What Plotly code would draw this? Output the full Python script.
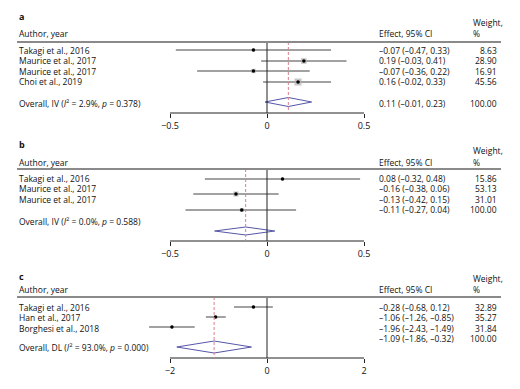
import plotly.graph_objects as go
import math

W, H = 520, 389
FONT = "Open Sans"
FS = 8.5

# ---------------- data ----------------
a_studies = ["Takagi et al., 2016", "Maurice et al., 2017", "Maurice et al., 2017", "Choi et al., 2019"]
a_es = [-0.07, 0.19, -0.07, 0.16]
a_lo = [-0.47, -0.03, -0.36, -0.02]
a_hi = [0.33, 0.41, 0.22, 0.33]
a_w = [8.63, 28.90, 16.91, 45.56]
a_overall = [0.11, -0.01, 0.23]
a_overall_label = "Overall, IV (<i>I</i><sup>2</sup> = 2.9%, <i>p</i> = 0.378)"
a_ticks = [-0.5, 0, 0.5]
a_ticktext = ["\u22120.5", "0", "0.5"]

b_studies = ["Takagi et al., 2016", "Maurice et al., 2017", "Maurice et al., 2017"]
b_es = [0.08, -0.16, -0.13]
b_lo = [-0.32, -0.38, -0.42]
b_hi = [0.48, 0.06, 0.15]
b_w = [15.86, 53.13, 31.01]
b_overall = [-0.11, -0.27, 0.04]
b_overall_label = "Overall, IV (<i>I</i><sup>2</sup> = 0.0%, <i>p</i> = 0.588)"
b_ticks = [-0.5, 0, 0.5]
b_ticktext = ["\u22120.5", "0", "0.5"]

c_studies = ["Takagi et al., 2016", "Han et al., 2017", "Borghesi et al., 2018"]
c_es = [-0.28, -1.06, -1.96]
c_lo = [-0.68, -1.26, -2.43]
c_hi = [0.12, -0.85, -1.49]
c_w = [32.89, 35.27, 31.84]
c_overall = [-1.09, -1.86, -0.32]
c_overall_label = "Overall, DL (<i>I</i><sup>2</sup> = 93.0%, <i>p</i> = 0.000)"
c_ticks = [-2, 0, 2]
c_ticktext = ["\u22122", "0", "2"]

panel_letters = ["a", "b", "c"]

# ---------------- layout geometry (pixels) ----------------
geo = [
    dict(letter_y=16, head_y=33, weight1_y=22, hline_y=42,
         text_rows=[50, 60.5, 71, 81.5], overall_text_y=103,
         right_rows=[50, 60.5, 71, 81.5], right_overall_y=103,
         plot_rows=[50, 61, 71, 82], diamond_y=102, diamond_h=4.5,
         axis_y=113, px_per_unit=194.0, sq_k=1.05),
    dict(letter_y=144, head_y=162, weight1_y=150, hline_y=169,
         text_rows=[178, 188.5, 199], overall_text_y=221,
         right_rows=[178, 188.5, 199], right_overall_y=209.5,
         plot_rows=[179, 194, 210], diamond_y=231, diamond_h=4,
         axis_y=241, px_per_unit=194.0, sq_k=0.7),
    dict(letter_y=276, head_y=289, weight1_y=278, hline_y=297,
         text_rows=[307, 317.5, 328], overall_text_y=347,
         right_rows=[307, 317.5, 328], right_overall_y=338.5,
         plot_rows=[307, 317, 327], diamond_y=347, diamond_h=6,
         axis_y=358, px_per_unit=48.5, sq_k=0.5),
]
ZERO_PX = 267
TEXT_X = 17
EFFECT_X = 377
WEIGHT_R = 499
LINE_R = 501

panels = [
    (a_studies, a_es, a_lo, a_hi, a_w, a_overall, a_overall_label, a_ticks, a_ticktext),
    (b_studies, b_es, b_lo, b_hi, b_w, b_overall, b_overall_label, b_ticks, b_ticktext),
    (c_studies, c_es, c_lo, c_hi, c_w, c_overall, c_overall_label, c_ticks, c_ticktext),
]


def fmt(v):
    return f"{v:.2f}".replace("-", "\u2013")


fig = go.Figure()
annotations = []
shapes = []
TXT_COL = "#111111"
CI_COL = "#444444"
DIAM_COL = "#5656a8"
DASH_COL = "#d9808f"

for i, (studies, es, lo, hi, w, ov, ovlab, ticks, ticktext) in enumerate(panels):
    g = geo[i]
    xname = "x" if i == 0 else f"x{i+1}"
    axname = "xaxis" if i == 0 else f"xaxis{i+1}"
    ppu = g["px_per_unit"]
    rng = [(0 - ZERO_PX) / ppu, (W - ZERO_PX) / ppu]

    ax = dict(domain=[0, 1], range=rng, showgrid=False, zeroline=False, showline=False,
              tickvals=ticks, ticktext=ticktext, ticks="outside", ticklen=4, tickwidth=1,
              tickcolor="#222", tickfont=dict(family=FONT, size=9, color=TXT_COL),
              anchor="free", position=1 - g["axis_y"] / H, fixedrange=True)
    if i > 0:
        ax["overlaying"] = "x"
    fig.update_layout(**{axname: ax})

    # CI lines
    xs, ys = [], []
    for l, h, y in zip(lo, hi, g["plot_rows"]):
        xs += [l, h, None]
        ys += [y, y, None]
    fig.add_trace(go.Scatter(x=xs, y=ys, mode="lines", xaxis=xname, yaxis="y",
                             line=dict(color=CI_COL, width=1), hoverinfo="skip", showlegend=False))
    # weight squares
    fig.add_trace(go.Scatter(x=es, y=g["plot_rows"], mode="markers", xaxis=xname, yaxis="y",
                             marker=dict(symbol="square", color="#b0b0b0",
                                         size=[g["sq_k"] * math.sqrt(v) for v in w], line=dict(width=0)),
                             hoverinfo="skip", showlegend=False, cliponaxis=False))
    # point estimates
    fig.add_trace(go.Scatter(x=es, y=g["plot_rows"], mode="markers", xaxis=xname, yaxis="y",
                             marker=dict(symbol="circle", color="#000", size=3.5, line=dict(width=0)),
                             hoverinfo="skip", showlegend=False, cliponaxis=False))
    # diamond
    dy, dh = g["diamond_y"], g["diamond_h"]
    fig.add_trace(go.Scatter(x=[ov[1], ov[0], ov[2], ov[0], ov[1]],
                             y=[dy, dy - dh, dy, dy + dh, dy], mode="lines", xaxis=xname, yaxis="y",
                             line=dict(color=DIAM_COL, width=1), hoverinfo="skip", showlegend=False))

    # axis line
    shapes.append(dict(type="line", xref=xname, yref="y", x0=ticks[0], x1=ticks[-1],
                       y0=g["axis_y"], y1=g["axis_y"], line=dict(color="#222", width=1)))
    # zero line
    shapes.append(dict(type="line", xref=xname, yref="y", x0=0, x1=0,
                       y0=g["hline_y"], y1=g["axis_y"], line=dict(color="#222", width=1)))
    # dashed overall line
    shapes.append(dict(type="line", xref=xname, yref="y", x0=ov[0], x1=ov[0],
                       y0=g["hline_y"], y1=g["axis_y"], line=dict(color=DASH_COL, width=1, dash="3px,2px")))
    # header rule
    shapes.append(dict(type="line", xref="paper", yref="y", x0=TEXT_X / W, x1=LINE_R / W,
                       y0=g["hline_y"], y1=g["hline_y"], line=dict(color="#8a8a8a", width=2)))

    def ann(text, x, y, xanchor="left", bold=False, size=FS):
        annotations.append(dict(text=f"<b>{text}</b>" if bold else text, x=x / W, y=y,
                                xref="paper", yref="y", xanchor=xanchor, yanchor="middle",
                                showarrow=False, font=dict(family=FONT, size=size, color=TXT_COL)))

    ann(panel_letters[i], TEXT_X, g["letter_y"], bold=True, size=9)
    ann("Author, year", TEXT_X, g["head_y"])
    ann("Effect, 95% CI", EFFECT_X, g["head_y"])
    ann("Weight,", 471, g["weight1_y"])
    ann("%", 471, g["head_y"])
    for s, y in zip(studies, g["text_rows"]):
        ann(s, TEXT_X, y)
    ann(ovlab, TEXT_X, g["overall_text_y"])
    for e, l, h, wt, y in zip(es, lo, hi, w, g["right_rows"]):
        ann(f"{fmt(e)} ({fmt(l)}, {fmt(h)})", EFFECT_X, y)
        ann(f"{wt:.2f}", WEIGHT_R, y, xanchor="right")
    ann(f"{fmt(ov[0])} ({fmt(ov[1])}, {fmt(ov[2])})", EFFECT_X, g["right_overall_y"])
    ann("100.00", WEIGHT_R, g["right_overall_y"], xanchor="right")

fig.update_layout(
    width=W, height=H, margin=dict(l=0, r=0, t=0, b=0),
    paper_bgcolor="white", plot_bgcolor="white",
    yaxis=dict(domain=[0, 1], range=[H, 0], visible=False, fixedrange=True),
    shapes=shapes, annotations=annotations, showlegend=False,
)
fig.write_html("out.html", config={"staticPlot": True},
               post_script="document.body.style.margin='0';document.body.style.padding='0';")
